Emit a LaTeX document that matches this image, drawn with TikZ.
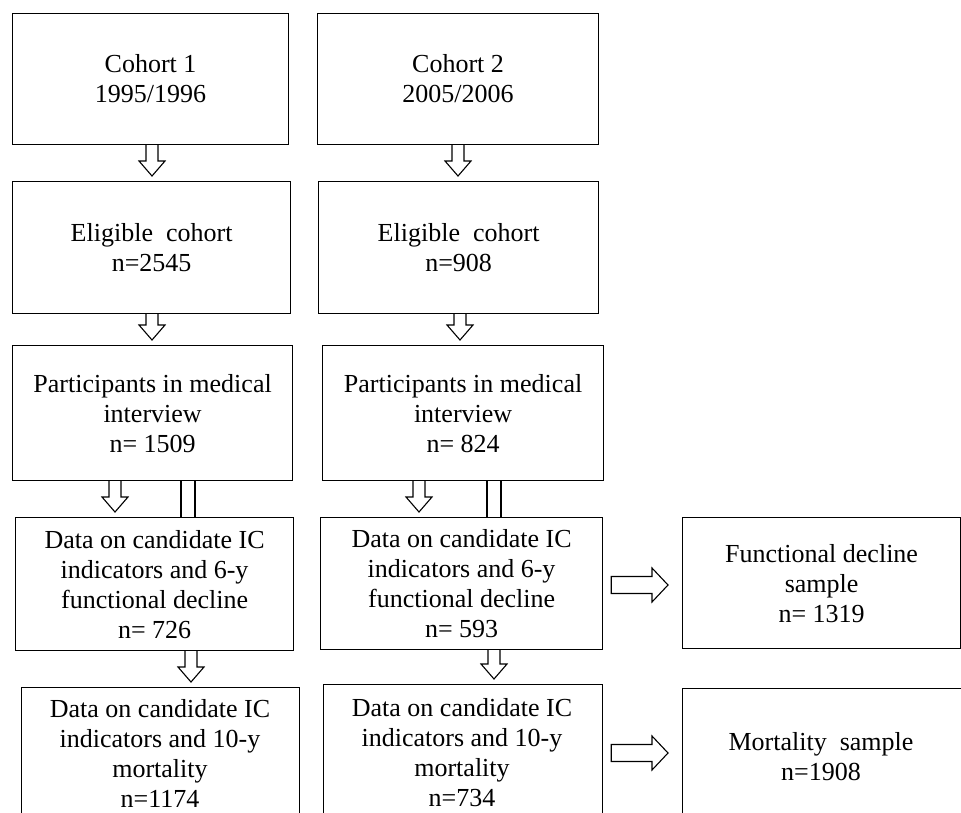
\documentclass[tikz,border=0pt]{standalone}
\usepackage{fontspec}
\setmainfont{Liberation Serif}
\usetikzlibrary{calc}
\tikzset{
  box/.style={draw, line width=1.2pt, inner sep=0pt, align=center, anchor=north west,
    font=\fontsize{26}{30}\selectfont},
  boxtext/.style={inner sep=0pt, align=center, font=\fontsize{26}{30}\selectfont},
  blk/.style={draw, line width=1.1pt, line join=miter, fill=white},
  twin/.style={draw, line width=1.1pt}
}
\newcommand\downarr[3]{%
  \draw[blk] let \p1=(#1,0 |- #2.south), \p2=(#1,0 |- #3.north) in
    (\x1-6pt,\y1) -- (\x1-6pt,\y2+20pt) -- (\x1-13pt,\y2+20pt) -- (\x1,\y2+5pt)
    -- (\x1+13pt,\y2+20pt) -- (\x1+6pt,\y2+20pt) -- (\x1+6pt,\y1);}
\newcommand\rightarr[3]{%
  \draw[blk] let \p1=(#1.east |- 0,#3), \p2=(#2.west |- 0,#3) in
    (\x1+8pt,\y1+8.5pt) -- (\x2-30pt,\y1+8.5pt) -- (\x2-30pt,\y1+17pt) -- (\x2-14pt,\y1)
    -- (\x2-30pt,\y1-17pt) -- (\x2-30pt,\y1-8.5pt) -- (\x1+8pt,\y1-8.5pt) -- cycle;}
\begin{document}
\begin{tikzpicture}[x=1pt,y=-1pt]
\useasboundingbox (0,0) rectangle (961,812);
\clip (0,0) rectangle (961,812);
\fill[white] (0,0) rectangle (961,812);

% row 1
\node[box, minimum width=276pt, minimum height=131pt] (c1) at (12,13) {Cohort 1\\1995/1996};
\node[box, minimum width=281pt, minimum height=131pt] (c2) at (317,13) {Cohort 2\\2005/2006};
% row 2
\node[box, minimum width=278pt, minimum height=132pt] (e1) at (12,181) {Eligible~ cohort\\n=2545};
\node[box, minimum width=280pt, minimum height=132pt] (e2) at (318,181) {Eligible~ cohort\\n=908};
% row 3
\node[box, minimum width=280pt, minimum height=135pt] (p1) at (12,345) {Participants in medical\\interview\\n= 1509};
\node[box, minimum width=281pt, minimum height=135pt] (p2) at (322,345) {Participants in medical\\interview\\n= 824};
% row 4
\node[box, minimum width=278pt, minimum height=133pt] (d1) at (15,517) {Data on candidate IC\\indicators and 6-y\\functional decline\\n= 726};
\node[box, minimum width=282pt, minimum height=132pt] (d2) at (320,517) {Data on candidate IC\\indicators and 6-y\\functional decline\\n= 593};
\node[box, minimum width=278pt, minimum height=131pt] (fs) at (682,517) {Functional decline\\sample\\n= 1319};
% row 5 (cut off at the bottom)
\node[box, minimum width=278pt, minimum height=160pt] (m1) at (21,687) {};
\node[box, minimum width=279pt, minimum height=160pt] (m2) at (323,684) {};
\node[box, minimum width=320pt, minimum height=160pt] (ms) at (682,688) {};
\node[boxtext] (m1t) at (160,753) {Data on candidate IC\\indicators and 10-y\\mortality\\n=1174};
\node[boxtext] (m2t) at (462,753) {Data on candidate IC\\indicators and 10-y\\mortality\\n=734};
\node[boxtext] (mst) at (821,757) {Mortality~ sample\\n=1908};

% down arrows
\downarr{152}{c1}{e1}
\downarr{458}{c2}{e2}
\downarr{152}{e1}{p1}
\downarr{460}{e2}{p2}
\downarr{115}{p1}{d1}
\downarr{419}{p2}{d2}
\downarr{191}{d1}{m1}
\downarr{494}{d2}{m2}
% twin lines
\draw[twin] (181,0 |- p1.south) -- (181,0 |- d1.north);
\draw[twin] (195,0 |- p1.south) -- (195,0 |- d1.north);
\draw[twin] (487,0 |- p2.south) -- (487,0 |- d2.north);
\draw[twin] (501,0 |- p2.south) -- (501,0 |- d2.north);
% right arrows
\rightarr{d2}{fs}{585}
\rightarr{m2}{ms}{753}
\end{tikzpicture}
\end{document}
